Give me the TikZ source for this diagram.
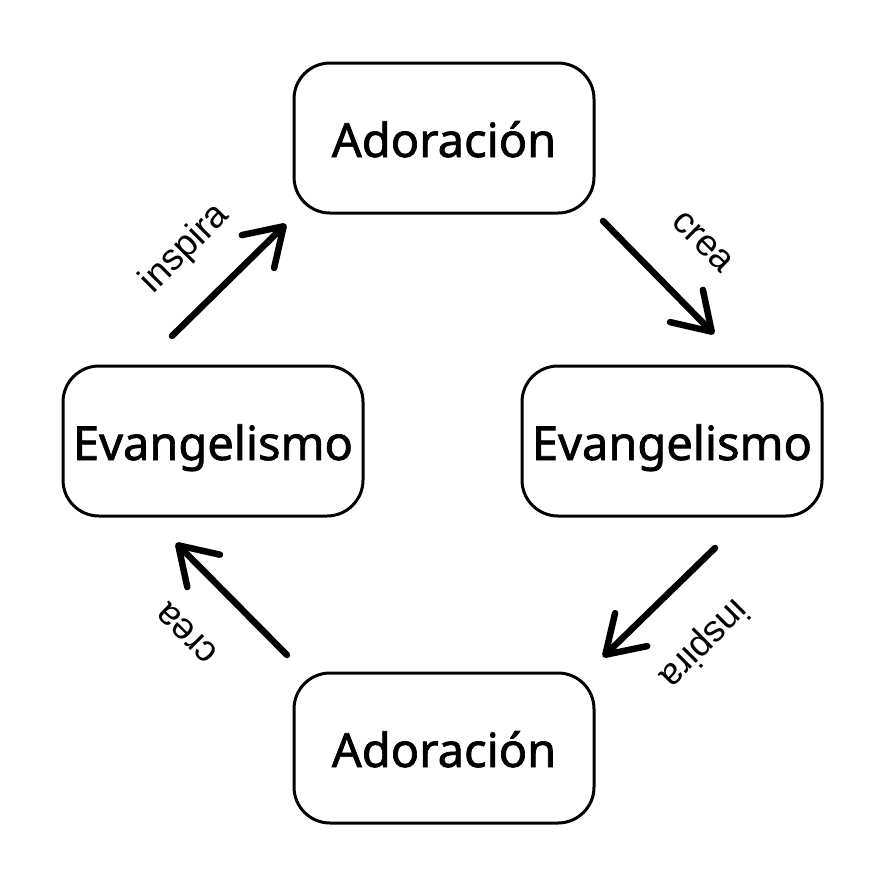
\documentclass[tikz,border=0pt]{standalone}
\usepackage{fontspec}
\setmainfont{Noto Sans}[FakeBold=1.5]
\newfontfamily\boxfont{Noto Sans}[FakeBold=1.5]
\newfontfamily\labfont{Liberation Sans}
\usetikzlibrary{arrows.meta}
\begin{document}
\begin{tikzpicture}[x=1pt,y=-1pt,
  boxstyle/.style={draw, line width=3pt, rounded corners=36pt, minimum width=300pt, minimum height=150pt, inner sep=0pt, text height=40pt, text depth=2pt, font=\boxfont\bfseries\fontsize{47}{52}\selectfont},
  arrowstyle/.style={line width=6.5pt, line cap=round, -{Straight Barb[length=36pt,width=46pt,round]}},
  labstyle/.style={inner sep=0pt, font=\labfont\fontsize{37}{40}\selectfont}]
\useasboundingbox (0,0) rectangle (886,886);
\node[boxstyle] (top) at (444,138) {Adoración};
\node[boxstyle] (right) at (672,441) {Evangelismo};
\node[boxstyle] (left) at (213,441) {Evangelismo};
\node[boxstyle] (bottom) at (444,748) {Adoración};
\coordinate (a1) at (172,336); \coordinate (b1) at (286,224);
\coordinate (a2) at (603,221); \coordinate (b2) at (714,334);
\coordinate (a3) at (715,548); \coordinate (b3) at (603,657);
\coordinate (a4) at (287,655); \coordinate (b4) at (176,543);
\draw[arrowstyle] (a1) -- (b1);
\draw[arrowstyle] (a2) -- (b2);
\draw[arrowstyle] (a3) -- (b3);
\draw[arrowstyle] (a4) -- (b4);
\node[labstyle, rotate=45] (l1) at (185,249) {inspira};
\node[labstyle, rotate=-45] (l2) at (703,242) {crea};
\node[labstyle, rotate=225] (l3) at (703,643) {inspira};
\node[labstyle, rotate=135] (l4) at (187,633) {crea};
\end{tikzpicture}
\end{document}
